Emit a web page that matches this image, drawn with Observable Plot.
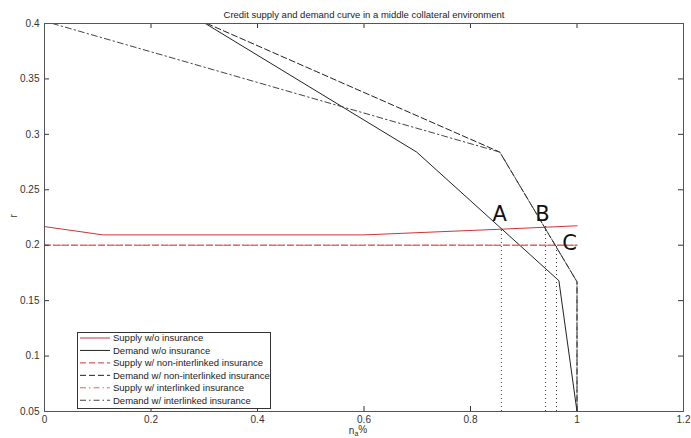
<!DOCTYPE html>
<html><head><meta charset="utf-8">
<script src="https://cdn.jsdelivr.net/npm/d3@7"></script>
<script src="https://cdn.jsdelivr.net/npm/@observablehq/plot@0.6"></script>
<style>
body{margin:0;background:#fff}
#chart{width:691px;height:438px}
</style>
</head><body><div id="chart"></div>
<script>
// ---- text ----
const title = "Credit supply and demand curve in a middle collateral environment";
const xLabelMain = "n", xLabelSub = "a", xLabelTail = "%";
const yLabel = "r";

// ---- ticks ----
const xTicks = [0, 0.2, 0.4, 0.6, 0.8, 1, 1.2];
const xTickLabels = ["0", "0.2", "0.4", "0.6", "0.8", "1", "1.2"];
const yTicks = [0.05, 0.1, 0.15, 0.2, 0.25, 0.3, 0.35, 0.4];
const yTickLabels = ["0.05", "0.1", "0.15", "0.2", "0.25", "0.3", "0.35", "0.4"];

// ---- series ----
const seriesNames = [
  "Supply w/o insurance",
  "Demand w/o insurance",
  "Supply w/ non-interlinked insurance",
  "Demand w/ non-interlinked insurance",
  "Supply w/ interlinked insurance",
  "Demand w/ interlinked insurance"
];
const supplyNoIns_x = [0, 0.11, 0.6, 0.86, 1.0];
const supplyNoIns_r = [0.2168, 0.2093, 0.2093, 0.2145, 0.2175];
const demandNoIns_x = [0.302, 0.699, 0.966, 1.0];
const demandNoIns_r = [0.4, 0.284, 0.168, 0.05];
const supplyNonInter_x = [0, 1.0];
const supplyNonInter_r = [0.2, 0.2];
const demandNonInter_x = [0.305, 0.855, 1.0, 1.0];
const demandNonInter_r = [0.4, 0.284, 0.167, 0.05];
const supplyInter_x = [0, 1.0];
const supplyInter_r = [0.2, 0.2];
const demandInter_x = [0.015, 0.855, 1.0, 1.0];
const demandInter_r = [0.4, 0.284, 0.167, 0.05];

// ---- equilibrium markers ----
const eqLabels = ["A", "B", "C"];
const eqX = [0.858, 0.941, 0.9615];
const eqR = [0.2145, 0.217, 0.2];
const eqBottom = [0.05, 0.05, 0.05];
const eqLabelX = [0.855, 0.935, 0.986];
const eqLabelR = [0.2222, 0.2222, 0.1955];

// ---- styles ----
const RED = "#d03434", BLACK = "#222";
const styles = {
  "Supply w/o insurance": {stroke: RED, dash: null},
  "Demand w/o insurance": {stroke: BLACK, dash: null},
  "Supply w/ non-interlinked insurance": {stroke: RED, dash: "6,3"},
  "Demand w/ non-interlinked insurance": {stroke: BLACK, dash: "6,3"},
  "Supply w/ interlinked insurance": {stroke: "#d86a6a", dash: "6,3,1.5,3"},
  "Demand w/ interlinked insurance": {stroke: "#444", dash: "6,3,1.5,3"}
};

const seriesData = [
  [supplyNoIns_x, supplyNoIns_r],
  [demandNoIns_x, demandNoIns_r],
  [supplyNonInter_x, supplyNonInter_r],
  [demandNonInter_x, demandNonInter_r],
  [supplyInter_x, supplyInter_r],
  [demandInter_x, demandInter_r]
];
const rows = [];
seriesNames.forEach((name, k) => {
  const [xs, rs] = seriesData[k];
  xs.forEach((x, i) => rows.push({series: name, x, r: rs[i]}));
});
const eqTable = eqLabels.map((l, i) => ({label: l, x: eqX[i], r: eqR[i], r0: eqBottom[i], lx: eqLabelX[i], lr: eqLabelR[i]}));

const lineMarks = seriesNames.map(name => Plot.line(rows.filter(d => d.series === name), {
  x: "x", y: "r", stroke: styles[name].stroke, strokeWidth: 1,
  strokeDasharray: styles[name].dash
}));

const W = 691, H = 438, ML = 44, MR = 8, MT = 23, MB = 27, TICK = 5;
const frameW = W - ML - MR, frameH = H - MT - MB;

const plot = Plot.plot({
  width: W, height: H,
  marginLeft: ML, marginRight: MR, marginTop: MT, marginBottom: MB,
  x: {domain: [0, 1.2]},
  y: {domain: [0.05, 0.4]},
  style: {fontFamily: "'Liberation Sans', Arial, sans-serif", fontSize: "10px", color: "#333", background: "#fff", overflow: "visible"},
  marks: [
    ...lineMarks,
    Plot.ruleX(eqTable, {x: "x", y1: "r0", y2: "r", stroke: "#333", strokeDasharray: "1,3"}),
    Plot.text(eqTable, {x: "lx", y: "lr", text: "label", fontSize: 21, fontFamily: "'DejaVu Sans', sans-serif", lineAnchor: "bottom", fill: "#111"}),
    // inward ticks on all four sides
    Plot.ruleX(xTicks, {insetTop: frameH - TICK, stroke: "#333"}),
    Plot.ruleX(xTicks, {insetBottom: frameH - TICK, stroke: "#333"}),
    Plot.ruleY(yTicks, {insetRight: frameW - TICK, stroke: "#333"}),
    Plot.ruleY(yTicks, {insetLeft: frameW - TICK, stroke: "#333"}),
    Plot.frame({stroke: "#555"}),
    Plot.axisX({anchor: "bottom", ticks: xTicks, tickSize: 0, tickPadding: 4, tickFormat: d => xTickLabels[xTicks.indexOf(d)], label: null}),
    Plot.axisY({anchor: "left", ticks: yTicks, tickSize: 0, tickPadding: 5, tickFormat: d => yTickLabels[yTicks.indexOf(d)], label: null}),
    Plot.text([title], {frameAnchor: "top", dy: -12, text: d => d, fontSize: 9.5, fill: "#222"}),
    Plot.text([yLabel], {frameAnchor: "left", dx: -31, rotate: -90, text: d => d, fontSize: 10, fill: "#333"}),
    Plot.text([xLabelMain + xLabelSub + xLabelTail], {frameAnchor: "bottom", dy: 22, dx: -6, text: d => d, fontSize: 10, fill: "#333", className: "xlab"})
  ]
});
document.getElementById("chart").appendChild(plot);

// subscript in x label
d3.select(plot).selectAll("g.xlab text").each(function() {
  const t = d3.select(this);
  t.text(null);
  t.append("tspan").text(xLabelMain);
  t.append("tspan").attr("font-size", 7).attr("dy", "0.3em").text(xLabelSub);
  t.append("tspan").attr("dy", "-0.3em").text(xLabelTail);
});

// legend (drawn inside the axes, lower left)
const svg = d3.select(plot);
const lg = svg.append("g").attr("font-family", "'Liberation Sans', Arial, sans-serif").attr("font-size", 9.5).attr("text-anchor", "start");
const box = {x: 77, y: 332, w: 193, h: 76};
lg.append("rect").attr("x", box.x + 0.5).attr("y", box.y + 0.5).attr("width", box.w).attr("height", box.h)
  .attr("fill", "#fff").attr("stroke", "#333");
seriesNames.forEach((name, i) => {
  const yy = box.y + 6 + i * 12.45;
  lg.append("line").attr("x1", box.x + 3).attr("x2", box.x + 33).attr("y1", yy).attr("y2", yy)
    .attr("stroke", styles[name].stroke).attr("stroke-dasharray", styles[name].dash);
  lg.append("text").attr("x", box.x + 36).attr("y", yy).attr("dy", "0.35em").attr("text-anchor", "start").attr("fill", "#222").text(name);
});
</script>
</body></html>
